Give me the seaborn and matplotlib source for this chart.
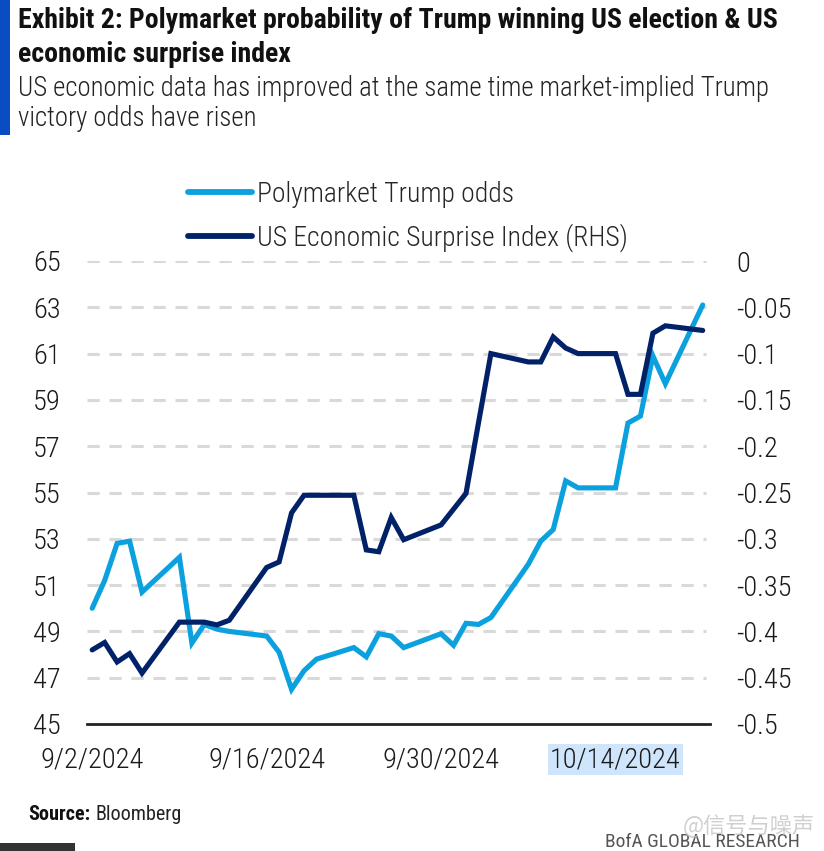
import matplotlib
matplotlib.use("Agg")
import matplotlib.pyplot as plt
import matplotlib.patches as mpatches
from matplotlib.lines import Line2D
from matplotlib import font_manager as fm
import seaborn as sns
import pandas as pd

# ---- data ----
dates = pd.bdate_range("2024-09-02", "2024-10-21")
polymarket = [50.0, 51.2, 52.8, 52.9, 50.7,
              52.2, 48.5, 49.3, 49.1, 49.0,
              48.8, 48.1, 46.5, 47.3, 47.8,
              48.3, 47.9, 48.9, 48.8, 48.3,
              48.9, 48.4, 49.35, 49.3, 49.6,
              51.9, 52.9, 53.4, 55.5, 55.2,
              55.2, 58.0, 58.3, 60.9, 59.7,
              63.1]
surprise = [-0.420, -0.412, -0.433, -0.424, -0.445,
            -0.390, -0.390, -0.390, -0.393, -0.388,
            -0.331, -0.325, -0.272, -0.253, -0.253,
            -0.253, -0.312, -0.314, -0.277, -0.301,
            -0.285, -0.268, -0.251, -0.175, -0.100,
            -0.109, -0.109, -0.082, -0.094, -0.100,
            -0.100, -0.144, -0.144, -0.078, -0.070,
            -0.075]
left_ticks = [45, 47, 49, 51, 53, 55, 57, 59, 61, 63, 65]
right_ticks = [0, -0.05, -0.1, -0.15, -0.2, -0.25, -0.3, -0.35, -0.4, -0.45, -0.5]
right_labels = ["0", "-0.05", "-0.1", "-0.15", "-0.2", "-0.25", "-0.3", "-0.35", "-0.4", "-0.45", "-0.5"]
xtick_dates = ["2024-09-02", "2024-09-16", "2024-09-30", "2024-10-14"]
xtick_labels = ["9/2/2024", "9/16/2024", "9/30/2024", "10/14/2024"]
series_names = ["Polymarket Trump odds", "US Economic Surprise Index (RHS)"]

df = pd.DataFrame({"date": dates, "poly": polymarket, "esi": surprise})

LIGHT = "#0BA0DE"
NAVY = "#012169"

available = {f.name for f in fm.fontManager.ttflist}
CONDENSED = "Roboto Condensed" in available
FAM = ["Roboto Condensed", "Roboto", "DejaVu Sans"] if CONDENSED else ["Roboto", "DejaVu Sans"]
k = 1.0 if CONDENSED else 0.86   # shrink if only normal-width font is present

sns.set_theme(style="white")
plt.rcParams["font.family"] = FAM

W, H = 824, 851
fig = plt.figure(figsize=(W / 100, H / 100), dpi=100)
fig.patch.set_facecolor("white")

ax_l, ax_r, ax_t, ax_b = 87, 710, 261, 724
ax = fig.add_axes([ax_l / W, 1 - ax_b / H, (ax_r - ax_l) / W, (ax_b - ax_t) / H])
ax.set_facecolor("white")
ax2 = ax.twinx()

sns.lineplot(data=df, x="date", y="poly", ax=ax, color=LIGHT, lw=3.7,
             solid_joinstyle="miter", legend=False)
sns.lineplot(data=df, x="date", y="esi", ax=ax2, color=NAVY, lw=3.7,
             solid_joinstyle="miter", legend=False)

x0 = dates[0] - pd.Timedelta(hours=10)
x1 = dates[-1] + pd.Timedelta(hours=14)
ax.set_xlim(x0, x1)
ax.set_ylim(45, 65)
ax2.set_ylim(-0.5, 0)

ax.set_yticks(left_ticks)
ax.set_yticklabels([str(t) for t in left_ticks])
ax2.set_yticks(right_ticks)
ax2.set_yticklabels(right_labels)
ax.set_xticks(pd.to_datetime(xtick_dates))
ax.set_xticklabels(xtick_labels)

for t in left_ticks[1:]:
    ax.axhline(t, color="#d9d9d9", lw=2.2, linestyle=(0, (4.0, 3.2)),
               xmax=(706 - ax_l) / (ax_r - ax_l), zorder=0)

for a in (ax, ax2):
    for s in a.spines.values():
        s.set_visible(False)
    a.set_xlabel("")
    a.set_ylabel("")
    a.grid(False)
ax.spines["bottom"].set_visible(True)
ax.spines["bottom"].set_color("#222222")
ax.spines["bottom"].set_linewidth(2.0)

tick_fs = 20.5 * k
ax.tick_params(axis="y", length=0, pad=19, labelsize=tick_fs, labelcolor="#1a1a1a")
ax2.tick_params(axis="y", length=0, pad=19, labelsize=tick_fs, labelcolor="#1a1a1a")
ax.tick_params(axis="x", length=0, pad=16, labelsize=tick_fs, labelcolor="#1a1a1a")
for lab in ax.get_xticklabels():
    lab.set_fontweight("light")
    if lab.get_text() == "10/14/2024":
        lab.set_bbox(dict(facecolor="#cfe5fb", edgecolor="none", pad=1.5))
for lab in ax.get_yticklabels() + ax2.get_yticklabels():
    lab.set_fontweight("light")

# legend
handles = [Line2D([0], [0], color=LIGHT, lw=4.2, solid_capstyle="round"),
           Line2D([0], [0], color=NAVY, lw=4.2, solid_capstyle="round")]
leg = fig.legend(handles, series_names, loc="upper left",
                 bbox_to_anchor=(188 / W, 1 - 181 / H), frameon=False,
                 prop=dict(size=19.9 * k, weight="light"), handlelength=2.3 / k,
                 handletextpad=0.2, labelspacing=0.57, borderpad=0, borderaxespad=0)

# titles
title_fs = 20.1 * k
fig.text(18 / W, 1 - 21 / H, "Exhibit 2: Polymarket probability of Trump winning US election & US",
         fontsize=title_fs, fontweight="bold", va="center", ha="left", color="#111111")
fig.text(18 / W, 1 - 54 / H, "economic surprise index",
         fontsize=title_fs, fontweight="bold", va="center", ha="left", color="#111111")
fig.text(18 / W, 1 - 89 / H, "US economic data has improved at the same time market-implied Trump",
         fontsize=19.3 * k, fontweight="light", va="center", ha="left", color="#222222")
fig.text(18 / W, 1 - 119 / H, "victory odds have risen",
         fontsize=19.3 * k, fontweight="light", va="center", ha="left", color="#222222")

# left accent bar and decorations
fig.patches.append(mpatches.Rectangle((0, 1 - 135 / H), 10 / W, 135 / H,
                                      transform=fig.transFigure, facecolor="#0A4DC2",
                                      edgecolor="none", figure=fig))
fig.patches.append(mpatches.Rectangle((0, 0), 75 / W, 8 / H,
                                      transform=fig.transFigure, facecolor="#333333",
                                      edgecolor="none", figure=fig))

# footer
t1 = fig.text(28 / W, 1 - 815 / H, "Source:", fontsize=14.5 * k, fontweight="bold",
              va="center", ha="left", color="#111111")
renderer = fig.canvas.get_renderer()
bb = t1.get_window_extent(renderer=renderer)
fig.text((bb.x1 + 5) / W, 1 - 815 / H, "Bloomberg", fontsize=14.5 * k, va="center",
         ha="left", color="#222222")
fig.text(800 / W, 1 - 842 / H, "BofA GLOBAL RESEARCH", fontsize=14 * k, va="center",
         ha="right", color="#555555")
fig.text(815 / W, 1 - 826 / H, "@信号与噪声", fontsize=16, va="center", ha="right",
         color="#c4c4c4", alpha=0.8, family=["Noto Sans CJK SC", "DejaVu Sans"])

fig.savefig("out.png", dpi=100, facecolor="white")
